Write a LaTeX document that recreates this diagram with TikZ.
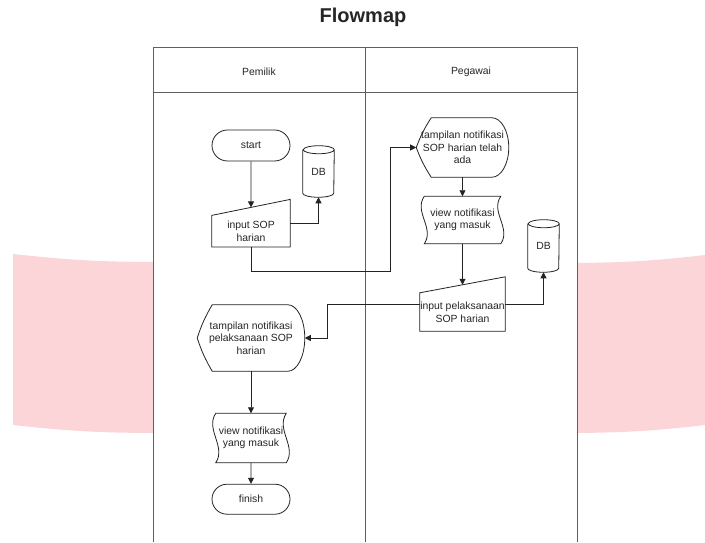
\documentclass[tikz,border=0pt]{standalone}
\usepackage{fontspec}
\setmainfont{Liberation Sans}
\usetikzlibrary{shapes.misc,arrows.meta,positioning,calc}
\definecolor{wmcolor}{RGB}{252,213,216}
\definecolor{linecolor}{RGB}{35,35,35}
\definecolor{lanecolor}{RGB}{95,95,95}

\begin{document}
\begin{tikzpicture}[
    x=0.75pt, y=0.75pt,
    font=\fontsize{7.8}{9.4}\selectfont,
    text=black!85,
    term/.style={rounded rectangle, draw=linecolor, line width=0.6pt, minimum width=58.5pt, minimum height=23.25pt, inner sep=0pt},
    manin/.style={rectangle, align=center, inner sep=0pt},
    dbase/.style={rectangle, align=center, minimum width=23.25pt, inner sep=0pt},
    disp/.style={rectangle, align=center, inner sep=0pt},
    viewbox/.style={rectangle, align=center, inner sep=0pt},
    outline/.style={draw=linecolor, line width=0.6pt},
    lane/.style={draw=lanecolor, line width=0.7pt},
    arrow/.style={-{Triangle[length=4.5pt,width=4.5pt]}, draw=linecolor, line width=0.6pt}
]
\useasboundingbox (0,0) rectangle (705,542);
\fill[white] (0,0) rectangle (705,542);

% Background bands
\fill[wmcolor] (13,288) to[bend right=3] (153,280) -- (153,109) to[bend left=3] (13,117) -- cycle;
\fill[wmcolor] (577,279) to[bend right=3] (705,287) -- (705,117) to[bend left=3] (577,109) -- cycle;

% Title
\node (title) at (363,525) {\fontsize{15}{18}\selectfont\bfseries Flowmap};

% Swimlanes
\draw[lane] (153,0) -- (153,495) -- (577,495) -- (577,0);
\draw[lane] (365,0) -- (365,495);
\draw[lane] (153,450) -- (577,450);
\node (pemilik) at (259,470) {Pemilik};
\node (pegawai) at (471,470) {Pegawai};

% Pemilik: input
\node[term] (start) at (251,396.5) {start};
\node[manin, minimum width=58.5pt, minimum height=23.25pt, below=40.5pt of start] (inpA) {input SOP\\harian};
\node[dbase, minimum height=38.25pt] (dbA) at (318.5,370.5) {DB};

% Pegawai
\node[disp, minimum width=69pt, minimum height=44.25pt] (dispB) at (462.5,394.5) {tampilan notifikasi\\SOP harian telah\\ada};
\node[viewbox, minimum width=63pt, minimum height=35.25pt, below=14.25pt of dispB] (viewB) {view notifikasi\\yang masuk};
\node[manin, minimum width=63.75pt, minimum height=28.5pt, below=36.75pt of viewB] (inpB) {input pelaksanaan\\SOP harian};
\node[dbase, minimum height=39pt] (dbB) at (543.5,296) {DB};

% Pemilik: result
\node[disp, minimum width=80.25pt, minimum height=49.5pt] (dispA) at (251,204) {tampilan notifikasi\\pelaksanaan SOP\\harian};
\node[viewbox, minimum width=58.5pt, minimum height=36.75pt, below=31.5pt of dispA] (viewA) {view notifikasi\\yang masuk};
\node[term, minimum height=22.5pt, below=15.75pt of viewA] (finish) {finish};

% Outlines
\foreach \n in {inpA,inpB}
  \draw[outline] (\n.north west) -- ([yshift=12pt]\n.north east) -- (\n.south east) -- (\n.south west) -- cycle;
\foreach \n in {dbA,dbB}
  \draw[outline] ([yshift=-3pt]\n.north west) -- ([yshift=3pt]\n.south west)
    arc[start angle=180, end angle=360, x radius=11.625pt, y radius=3pt] -- ([yshift=-3pt]\n.north east)
    arc[start angle=0, end angle=180, x radius=11.625pt, y radius=3pt]
    arc[start angle=180, end angle=360, x radius=11.625pt, y radius=3pt];
\foreach \n in {dispA,dispB}
  \draw[outline] (\n.west) to[bend left=6] ([xshift=11.25pt]\n.north west) -- ([xshift=-12.75pt]\n.north east)
    .. controls ([xshift=-5.7pt]\n.north east) and ($(\n.east)!0.552!(\n.north east)$) .. (\n.east)
    .. controls ($(\n.east)!0.552!(\n.south east)$) and ([xshift=-5.7pt]\n.south east) .. ([xshift=-12.75pt]\n.south east)
    -- ([xshift=11.25pt]\n.south west) to[bend left=6] (\n.west) -- cycle;
\foreach \n in {viewA,viewB}
  \draw[outline] ([xshift=3pt]\n.north west) -- ([xshift=-3pt]\n.north east)
    .. controls ($(\n.north east)!0.33!(\n.south east)+(-11pt,0)$) and ($(\n.north east)!0.67!(\n.south east)+(5pt,0)$) .. ([xshift=-3pt]\n.south east)
    -- ([xshift=3pt]\n.south west)
    .. controls ($(\n.north west)!0.67!(\n.south west)+(11pt,0)$) and ($(\n.north west)!0.33!(\n.south west)+(-5pt,0)$) .. ([xshift=3pt]\n.north west) -- cycle;

% Arrows - Pemilik input
\draw[arrow] (start) -- ([yshift=6pt]inpA.north);
\draw[arrow] ([yshift=6pt]inpA.east) -| (dbA.south);
\draw[arrow] (inpA.south) -- ++(0,-24) -| ([xshift=-19.5pt]dispB.west) -- (dispB.west);

% Arrows - Pegawai
\draw[arrow] (dispB) -- (viewB);
\draw[arrow] (viewB) -- ([yshift=6pt]inpB.north);
\draw[arrow] ([yshift=6pt]inpB.east) -| (dbB.south);
\draw[arrow] ([yshift=6pt]inpB.west) -| ([xshift=17.25pt]dispA.east) -- (dispA.east);

% Arrows - Pemilik result
\draw[arrow] (dispA) -- (viewA);
\draw[arrow] (viewA) -- (finish);

\end{tikzpicture}
\end{document}
